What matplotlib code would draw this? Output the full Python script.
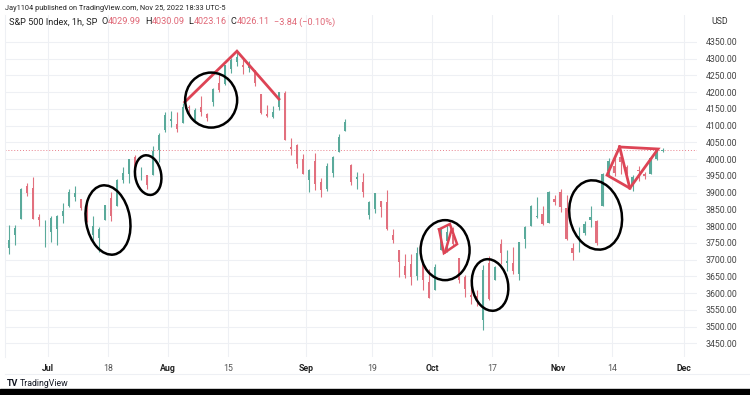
import numpy as np
import pandas as pd
import matplotlib
matplotlib.use("Agg")
import matplotlib.pyplot as plt
from matplotlib.patches import Ellipse, Rectangle
from matplotlib.transforms import ScaledTranslation

plt.rcParams['font.family'] = ['Roboto', 'DejaVu Sans']

# S&P 500, one candle per session
start_day = '2022-06-22'
holidays = ['2022-07-04', '2022-09-05', '2022-11-24']
opens = [3733, 3774, 3821, 3920, 3913, 3826, 3785,
         3782, 3792, 3831, 3859, 3888, 3880, 3855, 3773, 3764, 3818,
         3884, 3861, 3936, 3955, 4007, 3966, 3953, 3951, 4026, 4087,
         4113, 4104, 4107, 4154, 4116, 4156, 4134, 4170, 4227, 4225,
         4270, 4290, 4281, 4273, 4267, 4195, 4133, 4126, 4154, 4198,
         4035, 4042, 4000,
         3936, 3994, 3930, 3910, 3959, 4022, 4083, 3983, 3940, 3932, 3833,
         3850, 3876, 3871, 3773, 3727, 3682, 3687, 3652, 3687, 3633,
         3609, 3727, 3754, 3774, 3706, 3647, 3595, 3590, 3520, 3690,
         3638, 3746, 3689, 3689, 3657, 3762, 3799, 3826, 3835, 3809, 3881,
         3901, 3853, 3733, 3767, 3780, 3818, 3816, 3860, 3964,
         3978, 4007, 3976, 3920, 3967, 3956, 3956, 4000, 4024]
highs = [3802, 3802, 3913, 3927, 3945, 3837, 3818,
         3829, 3832, 3870, 3910, 3919, 3880, 3880, 3829, 3796, 3864,
         3903, 3939, 3975, 3999, 4013, 3975, 3953, 4039, 4078, 4140,
         4144, 4140, 4168, 4162, 4151, 4187, 4137, 4211, 4257, 4280,
         4301, 4325, 4303, 4292, 4267, 4195, 4160, 4157, 4200, 4204,
         4062, 4044, 4015,
         3971, 4018, 3943, 3987, 4010, 4076, 4119, 3986, 3961, 3959, 3875,
         3900, 3876, 3907, 3790, 3727, 3716, 3717, 3736, 3687, 3672,
         3688, 3791, 3807, 3797, 3706, 3653, 3640, 3609, 3685, 3712,
         3680, 3762, 3728, 3736, 3752, 3800, 3862, 3886, 3859, 3905, 3893,
         3911, 3894, 3750, 3796, 3814, 3859, 3818, 3959, 4002,
         4009, 4028, 3983, 3951, 3979, 3962, 4004, 4034, 4034]
lows = [3717, 3743, 3821, 3889, 3820, 3800, 3738,
        3752, 3742, 3809, 3858, 3876, 3847, 3812, 3759, 3722, 3818,
        3815, 3861, 3928, 3927, 3942, 3938, 3911, 3951, 3992, 4080,
        4097, 4080, 4107, 4128, 4108, 4128, 4113, 4159, 4201, 4220,
        4256, 4277, 4253, 4261, 4218, 4135, 4124, 4122, 4147, 4057,
        4013, 3972, 3954,
        3903, 3907, 3886, 3906, 3945, 4022, 4083, 3922, 3912, 3888, 3821,
        3838, 3827, 3789, 3749, 3648, 3644, 3623, 3640, 3610, 3585,
        3609, 3727, 3723, 3741, 3630, 3588, 3568, 3560, 3491, 3579,
        3638, 3687, 3666, 3656, 3640, 3734, 3799, 3825, 3804, 3809, 3863,
        3843, 3758, 3698, 3722, 3773, 3796, 3744, 3860, 3945,
        3949, 3954, 3955, 3906, 3933, 3940, 3956, 3998, 4021]
closes = [3759, 3795, 3912, 3900, 3821, 3819, 3785,
          3825, 3831, 3845, 3903, 3899, 3854, 3819, 3801, 3790, 3863,
          3830, 3937, 3959, 3999, 3961, 3966, 3921, 4023, 4072, 4130,
          4119, 4091, 4155, 4152, 4145, 4140, 4122, 4210, 4207, 4280,
          4297, 4305, 4274, 4284, 4228, 4138, 4128, 4141, 4199, 4058,
          4031, 3986, 3955,
          3967, 3924, 3908, 3980, 4006, 4067, 4110, 3932, 3946, 3901, 3873,
          3900, 3856, 3790, 3758, 3693, 3655, 3647, 3720, 3640, 3586,
          3678, 3791, 3783, 3745, 3640, 3612, 3589, 3577, 3669, 3583,
          3677, 3720, 3695, 3666, 3752, 3797, 3859, 3830, 3807, 3901, 3872,
          3856, 3760, 3720, 3771, 3807, 3828, 3749, 3956, 3993,
          3957, 3992, 3959, 3947, 3965, 3950, 4003, 4027, 4026]
last_price = 4026.11

tick_dates = ['2022-07-01', '2022-07-18', '2022-08-01', '2022-08-15', '2022-09-01',
              '2022-09-19', '2022-10-03', '2022-10-17', '2022-11-01', '2022-11-14',
              '2022-12-01']
tick_labels = ['Jul', '18', 'Aug', '15', 'Sep', '19', 'Oct', '17', 'Nov', '14', 'Dec']
price_ticks = list(range(3450, 4351, 50))

sessions = pd.bdate_range(start_day, '2022-12-02')
sessions = sessions[~sessions.isin(pd.to_datetime(holidays))]
n = len(closes)
o = np.array(opens); h = np.array(highs); l = np.array(lows); c = np.array(closes)
x = np.arange(n) + 0.5
tick_pos = [sessions.get_loc(pd.Timestamp(d)) for d in tick_dates]

up_col, dn_col = '#5aaa9b', '#e2707e'
cols = np.where(c >= o, up_col, dn_col)

fig = plt.figure(figsize=(7.5, 3.95), dpi=100)
fig.patch.set_facecolor('white')
ax = fig.add_axes([5/750, 1-357/395, 692/750, 342/395])
ax.set_xlim(-0.17, 115.2)
ax.set_ylim(3409, 4430)

ax.vlines(x, l, h, colors=cols, lw=0.8, zorder=3)
body = np.maximum(np.abs(c - o), 1.5)
ax.bar(x, body, bottom=np.minimum(o, c), width=0.45, color=cols, lw=0, zorder=3)

ax.axhline(last_price, color='#e8808c', lw=0.7, ls=(0, (1, 2)), zorder=2)

ax.set_xticks(tick_pos)
ax.set_xticklabels(tick_labels)
for lab in ax.get_xticklabels():
    if not lab.get_text().isdigit():
        lab.set_fontweight('bold')
        lab.set_color('#222222')
    else:
        lab.set_color('#555555')
ax.yaxis.tick_right()
ax.set_yticks(price_ticks)
ax.set_yticklabels([f'{p:.2f}' for p in price_ticks])
ax.tick_params(axis='y', length=0, pad=6, labelsize=6.3, labelcolor='#444444')
ax.tick_params(axis='x', length=0, pad=5, labelsize=6.3)
ax.grid(True, color='#eef0f4', lw=0.8)
ax.set_axisbelow(True)
for s in ax.spines.values():
    s.set_visible(False)
ax.spines['left'].set_visible(True)
ax.spines['left'].set_color('#eef0f4')

# hand-drawn markup
red = '#dd4455'
def red_path(pts, lw=2.0):
    xs = [p[0] for p in pts]; ys = [p[1] for p in pts]
    ax.plot(xs, ys, color=red, lw=lw, solid_joinstyle='miter', zorder=5)

red_path([(29.8, 4170), (38.5, 4322), (45.5, 4179)])
red_path([(72.2, 3790), (74.0, 3806), (75.2, 3746), (73.0, 3719), (72.2, 3790)], lw=1.8)
red_path([(73.2, 3722), (74.3, 3790)], lw=1.8)
red_path([(102.3, 4036), (108.7, 4030), (104.0, 3913), (100.2, 3952), (102.3, 4036)])
red_path([(102.3, 4036), (104.0, 3913)])

circles = [(17.0, 3818, 44, 70, 10), (23.7, 3952, 26, 40, 10), (34.2, 4176, 52, 55, 0),
           (73.2, 3728, 49, 60, 0), (80.7, 3624, 36, 52, 10), (98.3, 3833, 52, 70, 12)]
for cx, cy, w, hh, ang in circles:
    e = Ellipse((0, 0), w/100, hh/100, angle=ang, fill=False, ec='black', lw=1.8,
                transform=fig.dpi_scale_trans + ScaledTranslation(cx, cy, ax.transData),
                zorder=6)
    ax.add_artist(e)

# header and footer
fig.text(5/750, 1-9/395, 'Jay1104 published on TradingView.com, Nov 25, 2022 18:33 UTC-5',
         fontsize=5.3, color='#222222', va='center')
prev = fig.text(9/750, 1-22/395, 'S&P 500 Index, 1h, SP', fontsize=6.6, color='#222222',
                va='center')
pieces = [('O', '#222222', 3), ('4029.99', '#e06877', 0), ('H', '#222222', 3),
          ('4030.09', '#e06877', 0), ('L', '#222222', 3), ('4023.16', '#e06877', 0),
          ('C', '#222222', 3), ('4026.11', '#e06877', 0),
          ('\u22123.84 (\u22120.10%)', '#e06877', 3)]
for s, col, gap in pieces:
    prev = ax.annotate(s, xy=(1, 0.5), xycoords=prev, xytext=(gap, 0),
                       textcoords='offset points', va='center', ha='left',
                       fontsize=6.6, color=col, annotation_clip=False)

fig.text(711/750, 1-22/395, 'USD', fontsize=6.3, color='#333333', va='center')

fig.add_artist(plt.Line2D([5/750, 1], [1-374/395, 1-374/395], color='#eef0f4', lw=0.8))
fig.text(7/750, 1-383/395, 'TV', fontsize=6.5, fontweight='bold', color='#131722', va='center')
fig.text(20/750, 1-383/395, 'TradingView', fontsize=6.3, color='#131722', va='center')
fig.add_artist(Rectangle((0, 0), 1, 6/395, transform=fig.transFigure, color='black'))

fig.savefig('out.png', dpi=100)
